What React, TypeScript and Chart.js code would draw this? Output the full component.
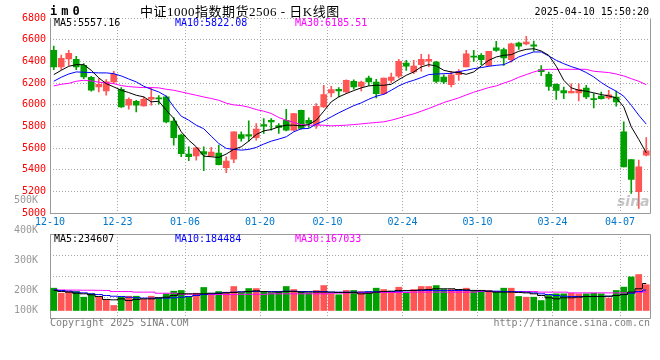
import React, { useEffect, useRef } from "react";
import { Chart, registerables } from "chart.js";
Chart.register(...registerables);

const dates = [
  "12-10","12-11","12-12","12-13","12-16","12-17","12-18","12-19","12-20","12-23","12-24","12-25","12-26","12-27","12-30","12-31",
  "01-02","01-03","01-06","01-07","01-08","01-09","01-10","01-13","01-14","01-15","01-16","01-17","01-20","01-21","01-22","01-23","01-24","01-27",
  "02-05","02-06","02-07","02-10","02-11","02-12","02-13","02-14","02-17","02-18","02-19","02-20","02-21","02-24","02-25","02-26","02-27","02-28",
  "03-03","03-04","03-05","03-06","03-07","03-10","03-11","03-12","03-13","03-14","03-17","03-18","03-19","03-20","03-21","03-24","03-25","03-26","03-27","03-28","03-31",
  "04-01","04-02","04-03","04-07","04-08","04-09","04-10",
];

const opens = [
  6502,6349,6422,6419,6364,6254,6165,6128,6211,6143,
  5996,6033,5990,6051,6060,6073,5849,5720,5546,5530,
  5570,5530,5556,5420,5499,5726,5726,5696,5818,5858,
  5809,5858,5766,5950,5858,5818,5981,6110,6143,6119,
  6216,6170,6247,6210,6103,6225,6265,6385,6302,6370,
  6403,6394,6256,6185,6277,6348,6449,6455,6364,6526,
  6510,6415,6568,6562,6553,6325,6280,6188,6130,6109,
  6109,6155,6057,6081,6063,6072,5750,5496,5199,5536,
];
const highs = [
  6542,6459,6502,6447,6379,6263,6241,6232,6309,6159,
  6064,6042,6073,6159,6085,6082,5883,5730,5613,5607,
  5613,5607,5628,5521,5751,5751,5852,5828,5873,5874,
  5828,5959,5922,5952,5880,6011,6180,6171,6159,6230,
  6231,6219,6265,6234,6247,6293,6419,6410,6410,6465,
  6462,6400,6277,6308,6324,6501,6501,6471,6492,6584,
  6522,6568,6578,6630,6587,6361,6301,6194,6164,6194,
  6194,6179,6103,6118,6133,6127,5842,5496,5490,5699,
];
const lows = [
  6324,6327,6364,6324,6241,6125,6119,6088,6195,5975,
  5959,5935,5987,5996,6005,5834,5628,5521,5484,5490,
  5392,5527,5445,5374,5466,5665,5665,5674,5736,5766,
  5736,5760,5760,5776,5791,5782,5975,6073,6073,6105,
  6143,6127,6179,6063,6094,6204,6247,6317,6287,6311,
  6348,6201,6195,6164,6225,6348,6400,6370,6358,6492,
  6363,6394,6510,6553,6495,6269,6133,6050,6057,6109,
  6035,6057,5971,6051,6051,5987,5428,5184,5046,5530,
];
const closes = [
  6349,6428,6474,6349,6257,6134,6189,6211,6281,5981,
  6051,5996,6051,6070,6054,5843,5696,5549,5521,5604,
  5546,5564,5449,5481,5751,5690,5711,5776,5803,5843,
  5791,5766,5920,5782,5828,5987,6094,6140,6128,6226,
  6164,6210,6210,6103,6247,6256,6400,6357,6357,6419,
  6419,6216,6210,6277,6308,6470,6440,6416,6492,6501,
  6431,6562,6541,6578,6541,6306,6170,6133,6109,6124,
  6142,6072,6048,6057,6093,6026,5428,5312,5428,5576,
];

const ma5 = [
  6278,6318,6355,6370,6370,6318,6248,6195,6165,6134,
  6113,6088,6073,6027,6033,5950,5874,5751,5674,5613,
  5527,5521,5515,5546,5589,5613,5665,5726,5760,5772,
  5797,5812,5812,5806,5818,5858,5941,6027,6073,6103,
  6131,6156,6174,6180,6180,6189,6232,6272,6303,6349,
  6370,6358,6318,6303,6297,6281,6303,6358,6410,6441,
  6456,6462,6493,6511,6517,6496,6456,6355,6226,6156,
  6134,6125,6110,6094,6082,6064,5981,5797,5681,5557,
];
const ma10 = [
  6217,6254,6284,6303,6300,6297,6294,6294,6287,6266,
  6238,6211,6171,6143,6119,6079,5981,5895,5858,5812,
  5779,5711,5644,5598,5589,5582,5589,5607,5638,5665,
  5684,5705,5751,5779,5782,5822,5852,5889,5926,5959,
  5992,6018,6051,6079,6097,6134,6174,6205,6226,6251,
  6278,6284,6287,6290,6306,6318,6333,6343,6355,6364,
  6370,6401,6441,6465,6487,6487,6450,6410,6379,6352,
  6330,6297,6257,6205,6162,6125,6079,5996,5904,5822,
];
const ma30 = [
  6174,6189,6198,6217,6226,6220,6208,6202,6195,6177,
  6168,6162,6159,6159,6156,6143,6134,6119,6103,6088,
  6072,6058,6042,6015,5999,5993,5978,5956,5941,5920,
  5883,5858,5837,5818,5812,5812,5812,5806,5809,5812,
  5818,5824,5831,5837,5843,5858,5877,5898,5917,5941,
  5966,5993,6021,6042,6064,6091,6116,6137,6159,6174,
  6200,6223,6254,6278,6303,6321,6327,6327,6327,6327,
  6327,6327,6309,6303,6297,6284,6266,6241,6217,6185,
];

// volumes in thousands
const volumeK = [
  186,144,158,158,111,139,111,89,42,111,
  119,119,92,119,106,139,161,167,117,144,
  192,139,158,153,200,144,183,183,153,144,
  153,200,175,158,144,167,208,139,131,167,
  167,158,158,186,175,153,194,153,175,200,
  200,208,175,175,175,186,167,153,167,153,
  186,186,117,111,111,83,125,139,139,144,
  139,139,144,139,103,167,195,280,300,215,
];
const volMa5K = [
  167,158,153,144,139,131,117,92,89,97,
  83,92,97,97,106,111,125,139,139,139,
  139,144,144,147,150,153,158,164,158,153,
  153,158,158,153,153,153,153,153,150,150,
  150,139,144,153,158,161,167,167,167,172,
  175,181,181,181,175,172,167,167,161,153,
  153,153,150,147,139,125,106,97,106,106,
  111,117,117,117,119,125,133,153,181,225,
];
const volMa10K = [
  172,167,161,153,147,139,133,125,119,117,
  111,106,103,103,103,103,106,111,117,125,
  133,139,144,150,153,156,158,158,158,158,
  158,161,161,158,158,158,158,153,153,153,
  153,153,156,156,158,158,161,164,167,167,
  167,167,167,167,167,167,167,164,161,161,
  158,158,156,153,147,139,133,125,119,117,
  117,117,117,117,119,125,133,144,158,170,
];
const volMa30K = [
  172,171,170,170,169,169,168,167,158,158,
  158,153,153,153,144,144,144,136,136,136,
  133,133,133,133,133,135,135,135,135,139,
  139,139,139,139,139,139,139,144,145,146,
  147,148,149,150,150,150,150,150,153,153,
  153,153,153,153,153,153,153,158,158,158,
  158,158,158,158,158,153,153,153,153,147,
  147,147,147,147,147,147,147,150,152,155,
];

const xTickIndices = [0, 9, 18, 28, 37, 47, 57, 67, 76];
const priceTicks = { min: 5000, max: 6800, step: 200 };
const volAxisTickValues = [133.3, 200, 300, 400, 500];
const volAxisTickLabels = ["100K", "200K", "300K", "400K", "500K"];

const symbolText = "im0";
const titleText = "中证1000指数期货2506 - 日K线图";
const timeText = "2025-04-10 15:50:20";
const priceLegend = ["MA5:5557.16", "MA10:5822.08", "MA30:6185.51"];
const volLegend = ["MA5:234607", "MA10:184484", "MA30:167033"];
const copyrightText = "Copyright 2025 SINA.COM";
const urlText = "http://finance.sina.com.cn";

const MONO = '"DejaVu Sans Mono", "Liberation Mono", monospace';
const RED = "#ff5555";
const GREEN = "#00a000";
const GRID = "#a8a8a8";
const FRAME = "#999999";
const MA_COLORS = ["#000000", "#0000ff", "#ff00ff"];
const LEGEND_X = [54, 175, 295];

function framePlugin(sides: { top: boolean; bottom: boolean; left: boolean; right: boolean }) {
  return {
    id: "frame",
    beforeDatasetsDraw(chart: any) {
      const { ctx, chartArea: a } = chart;
      const l = Math.round(a.left) + 0.5;
      const r = Math.round(a.right) + 0.5;
      const t = Math.round(a.top) + 0.5;
      const b = Math.round(a.bottom) + 0.5;
      ctx.save();
      ctx.strokeStyle = FRAME;
      ctx.lineWidth = 1;
      ctx.setLineDash([]);
      ctx.beginPath();
      if (sides.top) { ctx.moveTo(l, t); ctx.lineTo(r, t); }
      if (sides.bottom) { ctx.moveTo(l, b); ctx.lineTo(r, b); }
      if (sides.left) { ctx.moveTo(l, t); ctx.lineTo(l, b); }
      if (sides.right) { ctx.moveTo(r, t); ctx.lineTo(r, b); }
      ctx.stroke();
      ctx.restore();
    },
  };
}

export default function App() {
  const mainRef = useRef<HTMLCanvasElement>(null);
  const volRef = useRef<HTMLCanvasElement>(null);

  useEffect(() => {
    Chart.defaults.font.family = MONO;
    const up = closes.map((c, i) => c >= opens[i]);
    const colors = up.map((u) => (u ? RED : GREEN));
    const gridColor = (c: any) =>
      xTickIndices.includes(c.index) && c.index !== 0 ? GRID : "rgba(0,0,0,0)";
    const halfSlot = 600 / dates.length / 2;

    const mainText = {
      id: "mainText",
      afterDraw(chart: any) {
        const { ctx } = chart;
        ctx.save();
        ctx.fillStyle = "#000";
        ctx.textBaseline = "alphabetic";
        ctx.font = `bold 12px ${MONO}`;
        (ctx as any).letterSpacing = "4px";
        ctx.fillText(symbolText, 50, 15);
        (ctx as any).letterSpacing = "0px";
        ctx.font = '13px "Liberation Serif", "Noto Sans CJK SC"';
        (ctx as any).letterSpacing = "0.5px";
        ctx.fillText(titleText, 140, 16);
        (ctx as any).letterSpacing = "0px";
        ctx.font = `10px ${MONO}`;
        ctx.textAlign = "right";
        ctx.fillText(timeText, 649, 15);
        ctx.textAlign = "left";
        priceLegend.forEach((t, i) => {
          ctx.fillStyle = MA_COLORS[i];
          ctx.fillText(t, LEGEND_X[i], 26);
        });
        ctx.font = 'italic bold 14px "DejaVu Sans"';
        ctx.fillStyle = "rgba(150,150,150,0.55)";
        ctx.fillText("sina", 617, 206);
        ctx.restore();
      },
    };

    const main = new Chart(mainRef.current as HTMLCanvasElement, {
      type: "bar",
      data: {
        labels: dates,
        datasets: [
          { type: "line", data: ma5, borderColor: MA_COLORS[0], borderWidth: 1, pointRadius: 0, order: 0 } as any,
          { type: "line", data: ma10, borderColor: MA_COLORS[1], borderWidth: 1, pointRadius: 0, order: 0 } as any,
          { type: "line", data: ma30, borderColor: MA_COLORS[2], borderWidth: 1, pointRadius: 0, order: 0 } as any,
          {
            type: "bar",
            data: dates.map((_, i) => [lows[i], highs[i]]),
            backgroundColor: colors,
            barThickness: 1,
            grouped: false,
            order: 2,
          } as any,
          {
            type: "bar",
            data: dates.map((_, i) => [opens[i], closes[i]]),
            backgroundColor: colors,
            barThickness: 6,
            grouped: false,
            minBarLength: 1,
            order: 1,
          } as any,
        ],
      },
      options: {
        animation: false,
        responsive: false,
        maintainAspectRatio: false,
        layout: { padding: { top: 18, right: 10, left: 0, bottom: 0 } },
        plugins: { legend: { display: false }, tooltip: { enabled: false } },
        scales: {
          x: {
            offset: true,
            grid: { offset: true, color: gridColor, lineWidth: 1, drawTicks: false },
            border: { display: false, dash: [1, 2] },
            ticks: {
              autoSkip: false,
              maxRotation: 0,
              minRotation: 0,
              padding: 3,
              labelOffset: -halfSlot,
              color: "#0077cc",
              font: { family: MONO, size: 10 },
              callback: (_v: any, i: number) => (xTickIndices.includes(i) ? dates[i] : ""),
            },
            afterFit: (s: any) => { s.height = 18.7; },
          },
          y: {
            min: priceTicks.min,
            max: priceTicks.max,
            grid: { color: GRID, drawTicks: false },
            border: { display: false, dash: [1, 2] },
            ticks: {
              stepSize: priceTicks.step,
              padding: 4,
              color: "#ff0000",
              font: { family: MONO, size: 10 },
              callback: (v: any) => String(v),
            },
            afterFit: (s: any) => { s.width = 50; },
          },
        },
      } as any,
      plugins: [framePlugin({ top: false, bottom: true, left: true, right: true }), mainText],
    });

    const volText = {
      id: "volText",
      afterDraw(chart: any) {
        const { ctx } = chart;
        ctx.save();
        ctx.textBaseline = "alphabetic";
        ctx.font = `10px ${MONO}`;
        volLegend.forEach((t, i) => {
          ctx.fillStyle = MA_COLORS[i];
          ctx.fillText(t, LEGEND_X[i], 52);
        });
        ctx.fillStyle = "#808080";
        ctx.fillText(copyrightText, 50, 136);
        ctx.textAlign = "right";
        ctx.fillText(urlText, 650, 136);
        ctx.restore();
      },
    };

    const vol = new Chart(volRef.current as HTMLCanvasElement, {
      type: "bar",
      data: {
        labels: dates,
        datasets: [
          { type: "line", data: volMa5K, yAxisID: "yv", borderColor: MA_COLORS[0], borderWidth: 1, pointRadius: 0, stepped: "middle", order: 0 } as any,
          { type: "line", data: volMa10K, yAxisID: "yv", borderColor: MA_COLORS[1], borderWidth: 1, pointRadius: 0, stepped: "middle", order: 0 } as any,
          { type: "line", data: volMa30K, yAxisID: "yv", borderColor: MA_COLORS[2], borderWidth: 1, pointRadius: 0, stepped: "middle", order: 0 } as any,
          { type: "bar", data: volumeK, yAxisID: "yv", backgroundColor: colors, barThickness: 6, grouped: false, order: 1 } as any,
        ],
      },
      options: {
        animation: false,
        responsive: false,
        maintainAspectRatio: false,
        layout: { padding: { top: 44, right: 10, left: 0, bottom: 42 } },
        plugins: { legend: { display: false }, tooltip: { enabled: false } },
        scales: {
          x: {
            offset: true,
            grid: { offset: true, color: gridColor, lineWidth: 1, drawTicks: false },
            border: { display: false, dash: [1, 2] },
            ticks: { display: false },
            afterFit: (s: any) => { s.height = 0; },
          },
          yl: {
            position: "left",
            min: 106.7,
            max: 386.7,
            grid: { display: false },
            border: { display: false },
            afterBuildTicks: (s: any) => { s.ticks = volAxisTickValues.map((v) => ({ value: v })); },
            ticks: {
              autoSkip: false,
              padding: 4,
              color: "#999999",
              font: { family: MONO, size: 10 },
              callback: (_v: any, i: number) => volAxisTickLabels[i],
            },
            afterFit: (s: any) => { s.width = 50; },
          },
          yg: {
            position: "left",
            min: 0,
            max: 4,
            grid: { color: GRID, drawTicks: false },
            border: { display: false, dash: [1, 2] },
            ticks: { display: false, stepSize: 1 },
            afterFit: (s: any) => { s.width = 0; },
          },
          yv: { display: false, min: -62.5, max: 637.5 },
        },
      } as any,
      plugins: [framePlugin({ top: true, bottom: true, left: true, right: true }), volText],
    });

    return () => {
      main.destroy();
      vol.destroy();
    };
  }, []);

  return (
    <div style={{ position: "fixed", left: 0, top: 0, width: 660, height: 360, background: "#fff" }}>
      <canvas ref={mainRef} width={660} height={232} style={{ position: "absolute", left: 0, top: 0, width: 660, height: 232 }} />
      <canvas ref={volRef} width={660} height={170} style={{ position: "absolute", left: 0, top: 190, width: 660, height: 170, zIndex: 1 }} />
    </div>
  );
}
